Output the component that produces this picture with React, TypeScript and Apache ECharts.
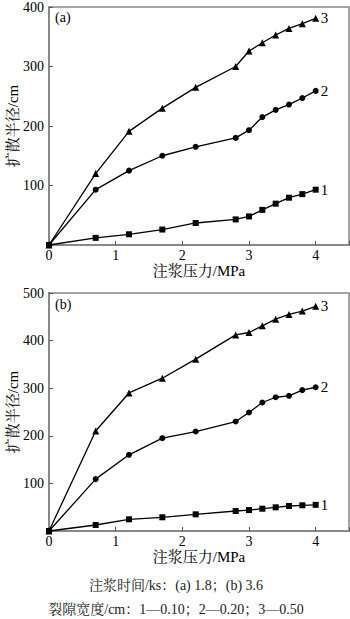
import React, { useEffect, useRef } from "react";
import * as echarts from "echarts";

const pressures = [0, 0.7, 1.2, 1.7, 2.2, 2.8, 3.0, 3.2, 3.4, 3.6, 3.8, 4.0];

// (a) injection time 1.8 ks
const a1 = [0, 12, 18, 26, 37, 43, 48, 59, 69.5, 79.5, 85.5, 93];
const a2 = [0, 93, 125, 150, 165, 180, 193, 215, 227, 236, 247, 259];
const a3 = [0, 120, 191, 230, 265, 300, 326, 340, 353, 364, 372, 381];

// (b) injection time 3.6 ks
const b1 = [0, 12.6, 24.6, 28.8, 35, 42, 44, 46.8, 49.8, 52.5, 54, 55];
const b2 = [0, 109, 160, 195, 209, 230, 249, 270, 281, 284, 296, 302];
const b3 = [0, 210, 290, 321, 361, 412, 417, 431, 445, 455, 462, 472];

const seriesNames = ["1", "2", "3"];
const symbols = ["rect", "circle", "triangle"];
const symbolSizes = [6, 6, 7];

const yMaxA = 400;
const yMaxB = 500;
const yInterval = 100;
const xMax = 4.5;
const xTicks = [0, 1, 2, 3, 4];

const panelLabels = ["(a)", "(b)"];
const xName = "注浆压力/MPa";
const yName = "扩散半径/cm";
const caption1 = "注浆时间/ks：(a) 1.8；(b) 3.6";
const caption2 = "裂隙宽度/cm：1—0.10；2—0.20；3—0.50";

const FONT = '"Liberation Serif", "Noto Serif CJK SC", "Noto Sans CJK SC", serif';

export default function App() {
  const ref = useRef<HTMLDivElement>(null);

  useEffect(() => {
    document.body.style.margin = "0";
    const chart = echarts.init(ref.current!, null, { renderer: "svg" });

    const grids = [
      { left: 49, top: 7, width: 300, height: 238 },
      { left: 49, top: 293, width: 300, height: 238 },
    ];

    const axisLine = { lineStyle: { color: "#888", width: 2 } };
    const xAxisBase = (gi: number) => ({
      type: "value",
      gridIndex: gi,
      min: 0,
      max: xMax,
      interval: 1,
      name: xName,
      nameLocation: "middle",
      nameGap: 18,
      nameMoveOverlap: false,
      nameTextStyle: { fontFamily: FONT, fontSize: 15, color: "#000" },
      axisLine: { show: true, onZero: false, ...axisLine },
      axisTick: { show: true, inside: true, length: 4, lineStyle: { color: "#555" } },
      axisLabel: {
        fontFamily: FONT,
        fontSize: 14,
        color: "#000",
        margin: 3,
        formatter: (v: number) => (xTicks.includes(v) ? String(v) : ""),
      },
      splitLine: { show: false },
    });
    const yAxisBase = (gi: number, max: number) => ({
      type: "value",
      gridIndex: gi,
      min: 0,
      max,
      interval: yInterval,
      name: yName,
      nameLocation: "middle",
      nameGap: 29,
      nameMoveOverlap: false,
      nameRotate: 90,
      nameTextStyle: { fontFamily: FONT, fontSize: 15, color: "#000" },
      axisLine: { show: true, onZero: false, ...axisLine },
      axisTick: { show: true, inside: true, length: 4, lineStyle: { color: "#555" } },
      axisLabel: {
        fontFamily: FONT,
        fontSize: 14,
        color: "#000",
        margin: 5,
        formatter: (v: number) => (v === 0 ? "" : String(v)),
      },
      splitLine: { show: false },
    });

    const mk = (vals: number[], idx: number, gi: number) => ({
      type: "line",
      name: seriesNames[idx] + (gi === 0 ? "a" : "b"),
      xAxisIndex: gi,
      yAxisIndex: gi,
      data: pressures.map((p, i) => [p, vals[i]]),
      symbol: symbols[idx],
      symbolSize: symbolSizes[idx],
      showAllSymbol: true,
      lineStyle: { color: "#000", width: 1.3 },
      itemStyle: { color: "#000" },
      endLabel: {
        show: true,
        formatter: seriesNames[idx],
        fontFamily: FONT,
        fontSize: 15,
        color: "#000",
        distance: 5,
      },
      silent: true,
    });

    chart.setOption({
      animation: false,
      backgroundColor: "#fff",
      grid: grids.map((g) => ({
        ...g,
        show: true,
        borderColor: "#888",
        borderWidth: 1.5,
        backgroundColor: "transparent",
        containLabel: false,
        outerBoundsMode: "none",
      })),
      xAxis: [xAxisBase(0), xAxisBase(1)],
      yAxis: [yAxisBase(0, yMaxA), yAxisBase(1, yMaxB)],
      series: [
        mk(a1, 0, 0),
        mk(a2, 1, 0),
        mk(a3, 2, 0),
        mk(b1, 0, 1),
        mk(b2, 1, 1),
        mk(b3, 2, 1),
      ],
      graphic: [
        {
          type: "text",
          left: 55,
          top: 10,
          style: { text: panelLabels[0], font: `14px ${FONT}`, fill: "#000" },
        },
        {
          type: "text",
          left: 55,
          top: 297,
          style: { text: panelLabels[1], font: `14px ${FONT}`, fill: "#000" },
        },
        {
          type: "text",
          x: 176,
          y: 585,
          style: { text: caption1, font: `14px ${FONT}`, fill: "#222", align: "center", verticalAlign: "middle" },
        },
        {
          type: "text",
          x: 176,
          y: 609,
          style: { text: caption2, font: `14px ${FONT}`, fill: "#222", align: "center", verticalAlign: "middle" },
        },
      ],
    });

    return () => chart.dispose();
  }, []);

  return <div ref={ref} style={{ position: "absolute", left: 0, top: 0, width: 350, height: 619 }} />;
}
